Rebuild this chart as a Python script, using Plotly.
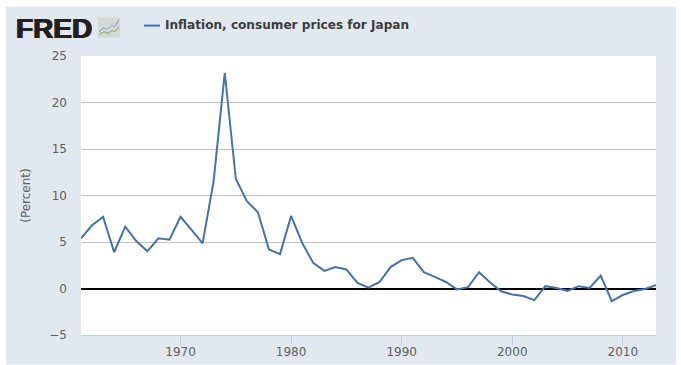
import plotly.graph_objects as go

years = list(range(1961, 2014))
inflation = [5.4, 6.8, 7.7, 3.9, 6.65, 5.1, 4.0, 5.4, 5.25, 7.7, 6.3, 4.85, 11.6, 23.2, 11.8,
             9.4, 8.2, 4.2, 3.7, 7.8, 4.9, 2.75, 1.9, 2.3, 2.05, 0.6, 0.1, 0.7, 2.3, 3.05,
             3.3, 1.75, 1.25, 0.7, -0.1, 0.15, 1.75, 0.65, -0.3, -0.65, -0.8, -1.25, 0.25,
             0.05, -0.25, 0.25, 0.06, 1.4, -1.35, -0.7, -0.27, -0.05, 0.35]
series_name = "Inflation, consumer prices for Japan"
y_ticks = [-5, 0, 5, 10, 15, 20, 25]
x_ticks = [1970, 1980, 1990, 2000, 2010]
W, H = 681, 365
L, R, T, B = 81, 656, 55.5, 335.5
FONT = "DejaVu Sans, Verdana, sans-serif"
BLUE = "#4572a7"

def px(x): return (x - L) / (R - L)
def py(y): return (B - y) / (B - T)

fig = go.Figure(go.Scatter(x=years, y=inflation, mode="lines", name=series_name,
                           line=dict(color=BLUE, width=2), showlegend=False))

shapes = [
    dict(type="rect", xref="paper", yref="paper", layer="below",
         x0=px(6), x1=px(676), y0=py(365), y1=py(6),
         fillcolor="#e1e8f0", line=dict(width=0)),
    dict(type="rect", xref="paper", yref="paper", layer="below",
         x0=px(L), x1=px(R), y0=py(B), y1=py(T),
         fillcolor="#ffffff", line=dict(width=0)),
    # legend key
    dict(type="line", xref="paper", yref="paper",
         x0=px(144), x1=px(160), y0=py(25), y1=py(25), line=dict(color=BLUE, width=2)),
    # logo tile
    dict(type="rect", xref="paper", yref="paper",
         x0=px(98), x1=px(120), y0=py(37), y1=py(17),
         fillcolor="#d5d9d5", line=dict(width=0)),
]
def logo_path(pts):
    return "M " + " L ".join(f"{px(a):.4f},{py(b):.4f}" for a, b in pts)
shapes.append(dict(type="path", xref="paper", yref="paper", path=logo_path(
    [(99, 31), (104, 27), (107, 29), (112, 25), (115, 26), (119, 19)]),
    line=dict(color="#7f9fc0", width=1)))
shapes.append(dict(type="path", xref="paper", yref="paper", path=logo_path(
    [(99, 34), (104, 31), (108, 33), (112, 30), (115, 31), (119, 26)]),
    line=dict(color="#7fae4f", width=1)))

fig.update_layout(
    width=W, height=H, autosize=False,
    paper_bgcolor="#ffffff", plot_bgcolor="rgba(0,0,0,0)",
    margin=dict(l=L, r=W - R, t=T, b=H - B, pad=0, autoexpand=False),
    font=dict(family=FONT, size=12, color="#606060"),
    shapes=shapes,
    annotations=[
        dict(text="<b>FRED</b>", xref="paper", yref="paper", x=px(14), y=py(27.5),
             xanchor="left", yanchor="middle", showarrow=False,
             font=dict(family="Liberation Sans, Arial, sans-serif", size=28, color="#231f20",
                       shadow="0.7px 0 0 #231f20, -0.7px 0 0 #231f20")),
        dict(text=f"<b>{series_name}</b>", xref="paper", yref="paper", x=px(163), y=py(24),
             xanchor="left", yanchor="middle", showarrow=False,
             font=dict(family=FONT, size=12.1, color="#3c3c3c")),
    ],
    xaxis=dict(range=[1961, 2013], tickmode="array", tickvals=x_ticks, showgrid=False,
               zeroline=False, showline=True, linecolor="#c0d0e0", linewidth=1,
               ticks="outside", ticklen=9, tickcolor="#c0d0e0", tickwidth=1, automargin=False,
               ticklabelstandoff=-3,
               tickfont=dict(size=12, color="#606060")),
    yaxis=dict(range=[-5, 25], tickmode="array", tickvals=y_ticks, showgrid=True,
               gridcolor="#c0c0c0", gridwidth=1, zeroline=True, zerolinecolor="#000000",
               zerolinewidth=2, showline=False, ticks="", ticklen=0, automargin=False,
               ticklabelstandoff=13,
               title=dict(text="(Percent)", standoff=16, font=dict(size=12, color="#606060")),
               tickfont=dict(size=12, color="#606060")),
)
fig.write_html("out.html", config=dict(displayModeBar=False),
               post_script="document.body.style.margin='0';document.documentElement.style.overflow='hidden';")
